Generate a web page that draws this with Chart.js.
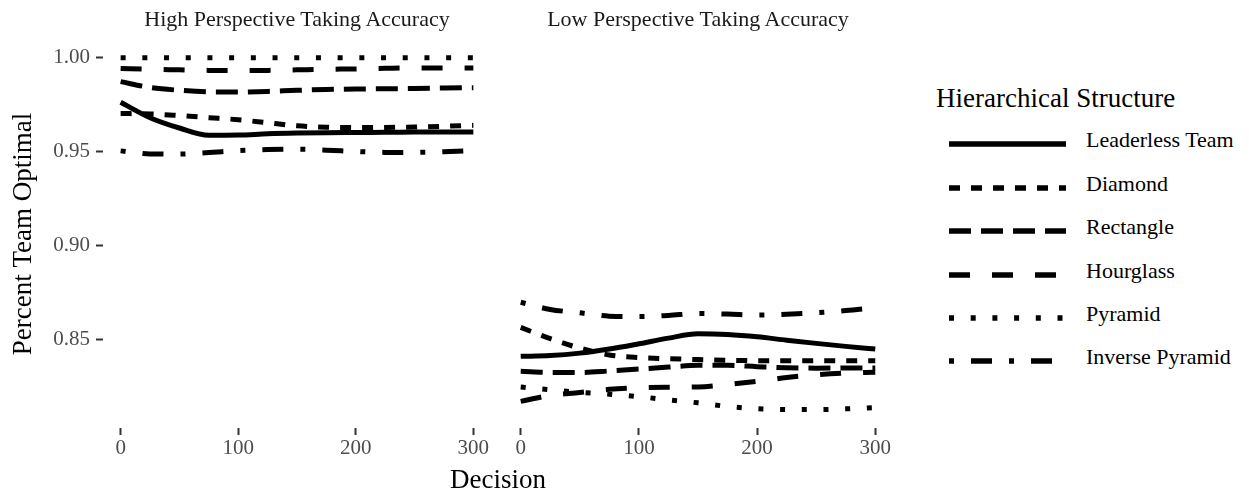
<!DOCTYPE html>
<html>
<head>
<meta charset="utf-8">
<script src="https://cdn.jsdelivr.net/npm/chart.js@4.4.1/dist/chart.umd.min.js"></script>
<style>
  body { margin: 0; background: #fff; width: 1249px; height: 495px; overflow: hidden; position: relative;
         font-family: "Liberation Serif", "Times New Roman", serif; }
  .abs { position: absolute; white-space: nowrap; }
  .strip { font-size: 22px; line-height: 22px; color: #1a1a1a; transform: translateX(-50%); top: 8px; }
  #xTitle { font-size: 27px; line-height: 27px; color: #000; left: 498px; top: 466px; transform: translateX(-50%); }
  #legTitle { font-size: 27px; line-height: 27px; color: #000; left: 936px; top: 85px; }
  .legLabel { font-size: 22px; line-height: 22px; color: #000; left: 1086px; }
  .legKey { left: 949px; }
</style>
</head>
<body>
<div class="abs" style="left:0;top:0;width:500px;height:495px"><canvas id="highChart" width="500" height="495"></canvas></div>
<div class="abs" style="left:500px;top:0;width:400px;height:495px"><canvas id="lowChart" width="400" height="495"></canvas></div>
<div class="abs strip" style="left:297px">High Perspective Taking Accuracy</div>
<div class="abs strip" style="left:698px">Low Perspective Taking Accuracy</div>
<div class="abs" id="xTitle">Decision</div>
<div class="abs" id="legTitle">Hierarchical Structure</div>
<div id="legend"></div>
<script>
// x positions (decision number) where the smoothed curves were read
const decision = [0, 25, 50, 75, 100, 125, 150, 175, 200, 225, 250, 275, 300];
const structures = ['Leaderless Team', 'Diamond', 'Rectangle', 'Hourglass', 'Pyramid', 'Inverse Pyramid'];
const xTicks = [0, 100, 200, 300];
const yTicks = [0.85, 0.90, 0.95, 1.00];

// High perspective taking accuracy
const highLeaderless = [0.9762, 0.9680, 0.9625, 0.9586, 0.9587, 0.9594, 0.9598, 0.9600, 0.9601, 0.9602, 0.9603, 0.9604, 0.9604];
const highDiamond    = [0.9702, 0.9700, 0.9691, 0.9680, 0.9669, 0.9653, 0.9637, 0.9629, 0.9627, 0.9628, 0.9630, 0.9634, 0.9639];
const highRectangle  = [0.9872, 0.9841, 0.9826, 0.9818, 0.9817, 0.9820, 0.9826, 0.9830, 0.9833, 0.9834, 0.9836, 0.9838, 0.9840];
const highHourglass  = [0.9942, 0.9938, 0.9935, 0.9932, 0.9931, 0.9932, 0.9935, 0.9938, 0.9940, 0.9943, 0.9945, 0.9945, 0.9945];
const highPyramid    = [1.0000, 1.0000, 1.0000, 1.0000, 1.0000, 1.0000, 1.0000, 1.0000, 1.0000, 1.0000, 1.0000, 1.0000, 1.0000];
const highInverse    = [0.9503, 0.9487, 0.9486, 0.9494, 0.9504, 0.9510, 0.9512, 0.9507, 0.9500, 0.9495, 0.9495, 0.9499, 0.9505];

// Low perspective taking accuracy
const lowLeaderless = [0.8408, 0.8412, 0.8425, 0.8447, 0.8475, 0.8505, 0.8528, 0.8524, 0.8512, 0.8494, 0.8477, 0.8461, 0.8447];
const lowDiamond    = [0.8562, 0.8502, 0.8452, 0.8415, 0.8401, 0.8395, 0.8391, 0.8387, 0.8385, 0.8385, 0.8385, 0.8385, 0.8385];
const lowRectangle  = [0.8328, 0.8322, 0.8322, 0.8330, 0.8340, 0.8351, 0.8360, 0.8360, 0.8353, 0.8347, 0.8345, 0.8346, 0.8346];
const lowHourglass  = [0.8168, 0.8200, 0.8215, 0.8232, 0.8240, 0.8243, 0.8245, 0.8258, 0.8275, 0.8295, 0.8310, 0.8319, 0.8323];
const lowPyramid    = [0.8245, 0.8230, 0.8216, 0.8206, 0.8193, 0.8176, 0.8160, 0.8141, 0.8129, 0.8124, 0.8124, 0.8128, 0.8135];
const lowInverse    = [0.8696, 0.8658, 0.8640, 0.8622, 0.8620, 0.8626, 0.8636, 0.8633, 0.8628, 0.8632, 0.8640, 0.8652, 0.8668];

// line types, same order as structures
const dashes = [[], [11, 11], [22, 10], [21, 22], [5, 16.7], [5, 17, 21, 17]];

const FONT = "'Liberation Serif', 'Times New Roman', serif";
Chart.defaults.font.family = FONT;

function makeDatasets(rows) {
  return structures.map((name, i) => ({
    label: name,
    data: decision.map((d, j) => ({ x: d, y: rows[i][j] })),
    borderColor: '#000',
    borderWidth: 5,
    borderDash: dashes[i],
    borderCapStyle: 'butt',
    pointRadius: 0,
    fill: false,
    cubicInterpolationMode: 'monotone'
  }));
}

function xScale() {
  return {
    type: 'linear', min: -15, max: 315,
    afterBuildTicks: s => { s.ticks = xTicks.map(v => ({ value: v })); },
    afterFit: s => { s.height = 67; },
    border: { display: false },
    grid: { drawOnChartArea: false, drawTicks: true, tickLength: 7, tickColor: '#333', tickWidth: 2 },
    ticks: { color: '#4d4d4d', font: { size: 21 }, padding: 1, maxRotation: 0, autoSkip: false }
  };
}

function yScale(show) {
  return {
    type: 'linear', min: 0.8026, max: 1.0094, display: show,
    afterBuildTicks: s => { s.ticks = yTicks.map(v => ({ value: v })); },
    afterFit: s => { s.width = show ? 103 : 0; },
    border: { display: false },
    grid: { drawOnChartArea: false, drawTicks: true, tickLength: 7, tickColor: '#333', tickWidth: 2 },
    ticks: { color: '#4d4d4d', font: { size: 21 }, padding: 6, callback: v => v.toFixed(2) },
    title: { display: true, text: 'Percent Team Optimal', color: '#000', font: { size: 27 }, padding: { top: 8, bottom: 0 } }
  };
}

function panel(id, rows, showY, pad) {
  return new Chart(document.getElementById(id), {
    type: 'line',
    data: { datasets: makeDatasets(rows) },
    options: {
      responsive: false,
      animation: false,
      devicePixelRatio: 1,
      layout: { padding: pad },
      plugins: { legend: { display: false }, tooltip: { enabled: false } },
      scales: { x: xScale(), y: yScale(showY) }
    }
  });
}

panel('highChart', [highLeaderless, highDiamond, highRectangle, highHourglass, highPyramid, highInverse],
      true, { left: 0, right: 9, top: 40, bottom: 0 });
panel('lowChart', [lowLeaderless, lowDiamond, lowRectangle, lowHourglass, lowPyramid, lowInverse],
      false, { left: 3, right: 7, top: 40, bottom: 0 });

// legend on the right
const legend = document.getElementById('legend');
const keyCentres = [140, 184, 227, 271, 314, 357];
structures.forEach((name, i) => {
  const cy = keyCentres[i];
  const key = document.createElement('div');
  key.className = 'abs legKey';
  key.style.top = (cy - 5) + 'px';
  key.innerHTML = '<svg width="117" height="10"><line x1="0" y1="5" x2="117" y2="5" stroke="#000" stroke-width="5.5"' +
    (dashes[i].length ? ' stroke-dasharray="' + dashes[i].join(' ') + '"' : '') + '/></svg>';
  legend.appendChild(key);
  const lab = document.createElement('div');
  lab.className = 'abs legLabel';
  lab.style.top = (cy - 11) + 'px';
  lab.textContent = name;
  legend.appendChild(lab);
});
</script>
</body>
</html>
